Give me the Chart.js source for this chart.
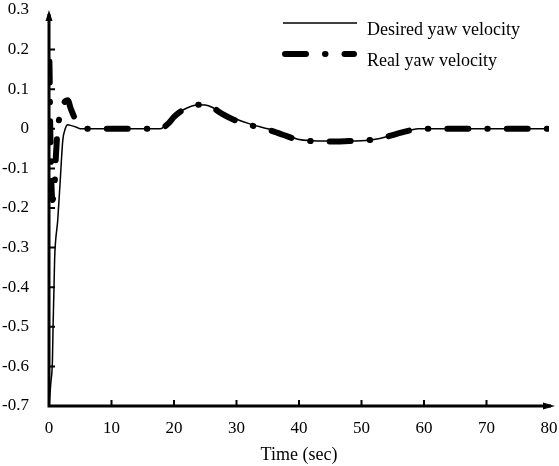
<!DOCTYPE html>
<html>
<head>
<meta charset="utf-8">
<script src="https://cdn.jsdelivr.net/npm/chart.js@4.4.0/dist/chart.umd.min.js"></script>
<style>
  html, body { margin: 0; padding: 0; background: #fff; }
</style>
</head>
<body>
<canvas id="yawChart" width="559" height="466"></canvas>
<script>
const seriesNames = ['Desired yaw velocity', 'Real yaw velocity'];

// time (sec) / yaw velocity
const desiredTime = [0, 0.3, 0.55, 0.65, 0.8, 0.9, 1.4, 1.8, 2.2, 2.6, 3.0, 3.6, 4.4, 5, 17.8, 19, 20, 21, 22, 23, 24, 25, 26, 27, 28, 29.4, 32, 34, 35, 36, 37.4, 40, 42, 44, 46, 48, 50, 52, 54, 56, 58, 59, 80];
const desiredYaw  = [-0.7, -0.64, -0.585, -0.5, -0.4, -0.33, -0.23, -0.13, -0.03, 0, 0.01, 0.008, 0.004, 0, 0, 0.014, 0.032, 0.044, 0.052, 0.058, 0.061, 0.06, 0.055, 0.046, 0.038, 0.028, 0.013, 0.004, 0, -0.005, -0.013, -0.027, -0.03, -0.031, -0.031, -0.031, -0.03, -0.027, -0.02, -0.01, -0.003, 0, 0];

const realTime = [0, 0.1, 0.2, 0.35, 0.55, 0.9, 1.1, 1.4, 2.0, 2.6, 3.0, 3.5, 4.2, 5, 6, 17.8, 19, 20, 21, 22, 23, 24, 25, 26, 27, 28, 29.4, 32, 34, 35, 36, 37.4, 40, 42, 44, 46, 48, 50, 52, 54, 56, 58, 59, 80];
const realYaw  = [0.21, 0.14, 0.0, -0.12, -0.18, -0.14, -0.07, 0.0, 0.045, 0.07, 0.072, 0.05, 0.025, 0.01, 0, 0, 0.012, 0.03, 0.043, 0.051, 0.057, 0.061, 0.061, 0.056, 0.045, 0.035, 0.024, 0.01, 0.002, -0.002, -0.007, -0.015, -0.028, -0.031, -0.032, -0.032, -0.031, -0.03, -0.027, -0.02, -0.011, -0.003, 0, 0];

const xTicks = [0, 10, 20, 30, 40, 50, 60, 70, 80];
const yTicks = [-0.7, -0.6, -0.5, -0.4, -0.3, -0.2, -0.1, 0, 0.1, 0.2, 0.3];

const FONT = '"Liberation Serif", "Times New Roman", serif';

function toPoints(ts, vs) {
  return ts.map((t, i) => ({ x: t, y: vs[i] }));
}

// hand-drawn looking axes: thick lines, inward ticks, arrow heads
const axesPlugin = {
  id: 'axesArrows',
  beforeDatasetsDraw(chart) {
    const { ctx, chartArea: a, scales: { x, y } } = chart;
    ctx.save();
    ctx.strokeStyle = '#000';
    ctx.fillStyle = '#000';
    ctx.lineWidth = 3;
    ctx.beginPath();
    ctx.moveTo(a.left, a.bottom); ctx.lineTo(a.left, a.top + 4);
    ctx.moveTo(a.left - 1.5, a.bottom); ctx.lineTo(a.right + 2, a.bottom);
    ctx.stroke();
    ctx.lineWidth = 2;
    ctx.beginPath();
    yTicks.slice(1, -1).forEach(v => {
      const py = y.getPixelForValue(v);
      ctx.moveTo(a.left, py); ctx.lineTo(a.left + 6, py);
    });
    xTicks.slice(1, -1).forEach(v => {
      const px = x.getPixelForValue(v);
      ctx.moveTo(px, a.bottom); ctx.lineTo(px, a.bottom - 6);
    });
    ctx.stroke();
    ctx.beginPath();
    ctx.moveTo(a.left, a.top); ctx.lineTo(a.left - 3.5, a.top + 11); ctx.lineTo(a.left + 3.5, a.top + 11); ctx.closePath();
    ctx.moveTo(a.right + 6, a.bottom); ctx.lineTo(a.right - 6, a.bottom - 3.5); ctx.lineTo(a.right - 6, a.bottom + 3.5); ctx.closePath();
    ctx.fill();
    ctx.restore();
  }
};

// legend sitting inside the plot, top right
const legendPlugin = {
  id: 'insideLegend',
  afterDraw(chart) {
    const ctx = chart.ctx;
    const rows = [{ y: 23, ty: 30 }, { y: 54, ty: 61 }];
    chart.data.datasets.forEach((ds, i) => {
      ctx.save();
      ctx.strokeStyle = ds.borderColor;
      ctx.lineWidth = ds.borderWidth;
      ctx.lineCap = ds.borderCapStyle || 'butt';
      ctx.setLineDash(ds.borderDash || []);
      ctx.beginPath();
      ctx.moveTo(i === 0 ? 283 : 285, rows[i].y);
      ctx.lineTo(i === 0 ? 357 : 354, rows[i].y);
      ctx.stroke();
      ctx.setLineDash([]);
      ctx.fillStyle = '#000';
      ctx.font = '18px ' + FONT;
      ctx.textBaseline = 'middle';
      ctx.fillText(ds.label, 367, rows[i].ty);
      ctx.restore();
    });
  }
};

new Chart(document.getElementById('yawChart'), {
  type: 'line',
  data: {
    datasets: [
      {
        label: seriesNames[0],
        data: toPoints(desiredTime, desiredYaw),
        borderColor: '#000',
        borderWidth: 1.5,
        pointRadius: 0,
        cubicInterpolationMode: 'monotone',
        fill: false,
      },
      {
        label: seriesNames[1],
        data: toPoints(realTime, realYaw),
        borderColor: '#000',
        borderWidth: 6,
        borderDash: [21, 19, 0.5, 19],
        borderDashOffset: -16,
        borderCapStyle: 'round',
        borderJoinStyle: 'round',
        pointRadius: 0,
        cubicInterpolationMode: 'monotone',
        fill: false,
      }
    ]
  },
  options: {
    responsive: false,
    animation: false,
    devicePixelRatio: 1,
    layout: { padding: { top: 10, right: 10, left: 0, bottom: 0 } },
    plugins: {
      legend: { display: false },
      tooltip: { enabled: false }
    },
    scales: {
      x: {
        type: 'linear',
        min: 0,
        max: 80,
        afterFit: s => { s.height = 60; s.paddingLeft = 0; s.paddingRight = 0; },
        afterBuildTicks: s => { s.ticks = xTicks.map(v => ({ value: v })); },
        grid: { display: false },
        border: { display: false },
        ticks: { color: '#000', font: { family: FONT, size: 17 }, padding: 4, maxRotation: 0 },
        title: { display: true, text: 'Time (sec)', color: '#000', font: { family: FONT, size: 18 }, padding: { top: 0, bottom: 0 } }
      },
      y: {
        type: 'linear',
        min: -0.7,
        max: 0.3,
        afterFit: s => { s.width = 49; s.paddingTop = 0; s.paddingBottom = 0; },
        afterBuildTicks: s => { s.ticks = yTicks.map(v => ({ value: v })); },
        grid: { display: false },
        border: { display: false },
        ticks: {
          color: '#000',
          font: { family: FONT, size: 17 },
          padding: 12,
          callback: v => { const r = Math.round(v * 10) / 10; return r === 0 ? '0' : String(r); }
        }
      }
    }
  },
  plugins: [axesPlugin, legendPlugin]
});
</script>
</body>
</html>
